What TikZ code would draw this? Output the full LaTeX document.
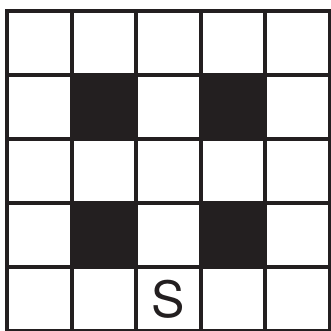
\documentclass[tikz,border=0pt]{standalone}
\usepackage{fontspec}
\setmainfont{TeX Gyre Heros}
\definecolor{ink}{HTML}{231F20}
\begin{document}
\begin{tikzpicture}[x=1pt,y=-1pt,
  gridline/.style={draw=ink,line width=4pt},
  darkcell/.style={fill=ink},
  label/.style={text=ink,font=\fontsize{50}{50}\selectfont,inner sep=0pt}]
\useasboundingbox (0,0) rectangle (331,330);
\def\xs{{7,71.6,136.2,200.8,265.4,330}}
\def\ys{{11,75,139,203,267,331}}
% dark cells
\foreach \c in {1,3}{
  \foreach \r in {1,3}{
    \pgfmathsetmacro\xa{\xs[\c]}
    \pgfmathsetmacro\xb{\xs[\c+1]}
    \pgfmathsetmacro\ya{\ys[\r]}
    \pgfmathsetmacro\yb{\ys[\r+1]}
    \fill[darkcell] (\xa,\ya) rectangle (\xb,\yb);
  }
}
% grid lines
\foreach \i in {0,...,5}{
  \pgfmathsetmacro\xx{\xs[\i]}
  \pgfmathsetmacro\yy{\ys[\i]}
  \draw[gridline,line cap=rect] (\xx,11) -- (\xx,331);
  \draw[gridline,line cap=rect] (7,\yy) -- (330,\yy);
}
\node[label] (s) at (168.5,299) {S};
\end{tikzpicture}
\end{document}
